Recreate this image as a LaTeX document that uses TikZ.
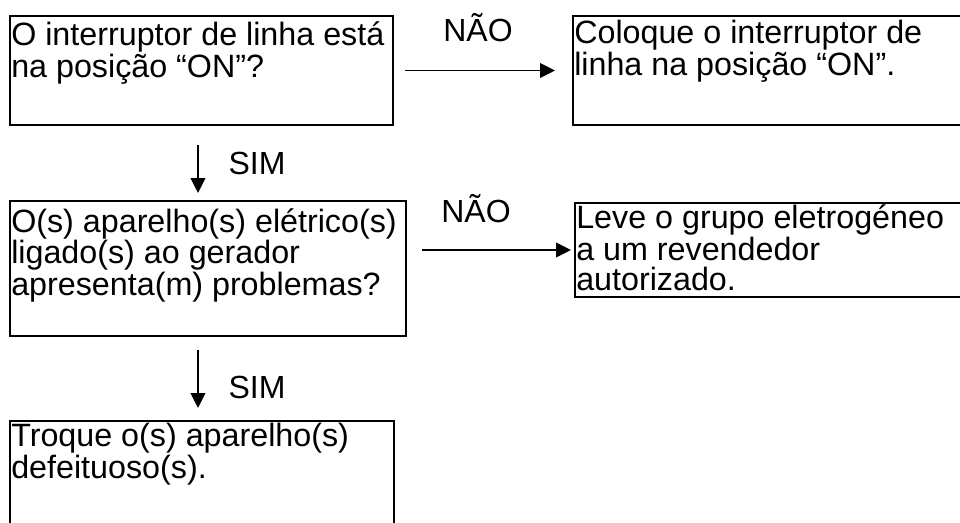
\documentclass[tikz,border=0pt]{standalone}
\usepackage{fontspec}
\setmainfont{Liberation Sans}
\usetikzlibrary{arrows.meta,calc}
\tikzset{
  box/.style={draw=black, line width=1.5pt, inner sep=0, anchor=north west},
  txt/.style={anchor=base west, inner sep=0, align=left, font=\fontsize{24.2}{22.5}\selectfont},
  lbl/.style={inner sep=0, font=\fontsize{24}{24}\selectfont},
  arr/.style={line width=1.4pt, -{Triangle[length=11.25pt, width=11pt]}}
}
\begin{document}
\begin{tikzpicture}[x=0.75pt, y=-0.75pt]
\clip (0,0) rectangle (960,522);
\fill[white] (0,0) rectangle (960,522);
% boxes
\node[box, minimum width=383*0.75pt, minimum height=109*0.75pt] (b1) at (9,15) {};
\node[box, minimum width=420*0.75pt, minimum height=109*0.75pt] (b2) at (572,15) {};
\node[box, minimum width=396*0.75pt, minimum height=135*0.75pt] (b3) at (9,200) {};
\node[box, minimum width=420*0.75pt, minimum height=94*0.75pt] (b4) at (574,202) {};
\node[box, minimum width=384*0.75pt, minimum height=140*0.75pt] (b5) at (9,420) {};
% texts (anchor = baseline of the last line)
\node[txt] (t1) at (11,77) {O interruptor de linha está\\na posição “ON”?};
\node[txt] (t2) at (574,75) {Coloque o interruptor de\\linha na posição “ON”.};
\node[txt] (t3) at (11,295) {O(s) aparelho(s) elétrico(s)\\ligado(s) ao gerador\\apresenta(m) problemas?};
\node[txt] (t4) at (576,290) {Leve o grupo eletrogéneo\\a um revendedor\\autorizado.};
\node[txt] (t5) at (11,478) {Troque o(s) aparelho(s)\\defeituoso(s).};
% connectors
\coordinate (d1s) at (198,143);
\coordinate (d1e) at (198,193);
\coordinate (d2s) at (198,348);
\coordinate (d2e) at (198,408);
\draw[arr] ([xshift=11*0.75pt]b1.east) -- ([xshift=-17*0.75pt]b2.west);
\draw[arr] ([xshift=15*0.75pt]b3.east |- b4.west) -- ([xshift=-3*0.75pt]b4.west);
\draw[arr] ([yshift=-19*0.75pt]d1s |- b1.south) -- (d1e);
\draw[arr] ([yshift=-13*0.75pt]d2s |- b3.south) -- (d2e);
% labels
\node[lbl] (n1) at (478,28) {NÃO};
\node[lbl] (n2) at (476,209) {NÃO};
\node[lbl] (s1) at (257,163) {SIM};
\node[lbl] (s2) at (257,387) {SIM};
\end{tikzpicture}
\end{document}
